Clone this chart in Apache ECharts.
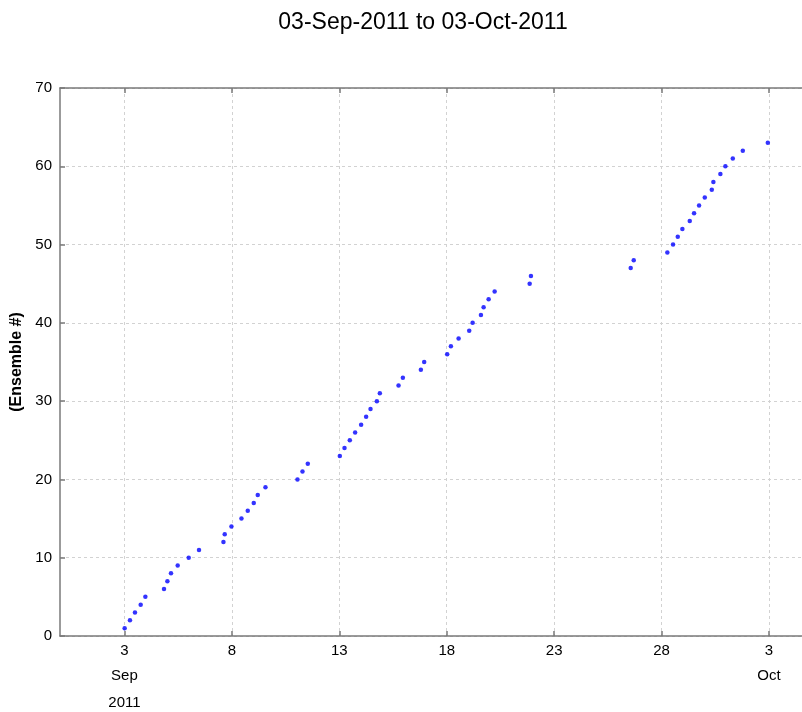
<!DOCTYPE html>
<html><head><meta charset="utf-8">
<script src="https://cdn.jsdelivr.net/npm/echarts@6/dist/echarts.min.js"></script>
<style>html,body{margin:0;padding:0;background:#fff}#chart{width:802px;height:712px}</style>
</head><body><div id="chart"></div>
<script>
const titleText = '03-Sep-2011 to 03-Oct-2011';
const yAxisName = '(Ensemble #)';
const ensembleTimes = [
  '2011-09-03 00:13','2011-09-03 06:09','2011-09-03 11:44','2011-09-03 18:07','2011-09-03 23:21',
  '2011-09-04 20:10','2011-09-04 23:57','2011-09-05 03:59','2011-09-05 11:28','2011-09-05 23:46',
  '2011-09-06 11:17','2011-09-07 14:33','2011-09-07 16:00','2011-09-07 23:30','2011-09-08 10:41',
  '2011-09-08 17:43','2011-09-09 00:26','2011-09-09 04:54','2011-09-09 13:30','2011-09-11 01:16',
  '2011-09-11 06:52','2011-09-11 12:47','2011-09-13 00:33','2011-09-13 05:48','2011-09-13 11:44',
  '2011-09-13 17:40','2011-09-14 00:22','2011-09-14 05:57','2011-09-14 10:52','2011-09-14 17:56',
  '2011-09-14 21:16','2011-09-15 18:10','2011-09-15 22:59','2011-09-16 19:06','2011-09-16 22:48',
  '2011-09-18 00:30','2011-09-18 04:38','2011-09-18 13:15','2011-09-19 01:06','2011-09-19 04:54',
  '2011-09-19 14:11','2011-09-19 17:11','2011-09-19 22:47','2011-09-20 05:30','2011-09-21 20:37',
  '2011-09-21 22:03','2011-09-26 13:30','2011-09-26 16:52','2011-09-28 06:26','2011-09-28 12:47',
  '2011-09-28 18:03','2011-09-28 23:13','2011-09-29 07:28','2011-09-29 12:16','2011-09-29 17:51',
  '2011-09-30 00:14','2011-09-30 08:04','2011-09-30 09:50','2011-09-30 17:40','2011-09-30 23:15',
  '2011-10-01 07:32','2011-10-01 18:42','2011-10-02 22:39'
];
const ensembleNumbers = [
  1,2,3,4,5,6,7,8,9,10,
  11,12,13,14,15,16,17,18,19,20,
  21,22,23,24,25,26,27,28,29,30,
  31,32,33,34,35,36,37,38,39,40,
  41,42,43,44,45,46,47,48,49,50,
  51,52,53,54,55,56,57,58,59,60,
  61,62,63
];
const xTickDates = ['2011-09-03','2011-09-08','2011-09-13','2011-09-18','2011-09-23','2011-09-28','2011-10-03'];
const xTickLabels = ['3','8','13','18','23','28','3'];
const xTickMonths = ['Sep','','','','','','Oct'];
const xTickYears = ['2011','','','','','',''];
const xRange = ['2011-08-31','2011-10-05'];
const yTicks = [0,10,20,30,40,50,60,70];

function toUTC(s) {
  const parts = s.split(' ');
  const d = parts[0].split('-').map(Number);
  const t = (parts[1] || '00:00').split(':').map(Number);
  return Date.UTC(d[0], d[1] - 1, d[2], t[0], t[1]);
}
const tickVals = xTickDates.map(toUTC);
const seriesData = ensembleTimes.map((t, i) => [toUTC(t), ensembleNumbers[i]]);

const FONT = 'Liberation Sans, Arial, Helvetica, sans-serif';
const axisColor = '#7a7a7a';
const gridLine = { show: true, lineStyle: { color: '#d2d2d2', type: [3, 3], width: 1 } };

const chart = echarts.init(document.getElementById('chart'), null, { renderer: 'canvas' });
chart.setOption({
  animation: false,
  backgroundColor: '#ffffff',
  title: {
    text: titleText, left: 418, top: 6, textAlign: 'center',
    textStyle: { fontFamily: FONT, fontSize: 23, fontWeight: 'normal', color: '#000' }
  },
  grid: { left: 60, width: 752, top: 88, height: 548, containLabel: false, outerBoundsMode: 'none' },
  xAxis: [{
    type: 'value', min: toUTC(xRange[0]), max: toUTC(xRange[1]), position: 'bottom',
    axisLine: { show: true, onZero: false, lineStyle: { color: axisColor, width: 1.5 } },
    axisTick: { show: true, inside: true, length: 5, customValues: tickVals, lineStyle: { color: axisColor, width: 1.5 } },
    axisLabel: {
      show: true, customValues: tickVals, margin: 3, color: '#000', fontFamily: FONT, fontSize: 15,
      formatter: function (v) {
        const i = tickVals.indexOf(v);
        if (i < 0) return '';
        let s = '{d|' + xTickLabels[i] + '}';
        if (xTickMonths[i]) s += '\n{m|' + xTickMonths[i] + '}';
        if (xTickYears[i]) s += '\n{m|' + xTickYears[i] + '}';
        return s;
      },
      rich: {
        d: { fontFamily: FONT, fontSize: 15, lineHeight: 23, color: '#000' },
        m: { fontFamily: FONT, fontSize: 15, lineHeight: 27, color: '#000' }
      }
    },
    splitLine: gridLine
  }, {
    type: 'value', min: toUTC(xRange[0]), max: toUTC(xRange[1]), position: 'top',
    axisLine: { show: true, onZero: false, lineStyle: { color: axisColor, width: 1.5 } },
    axisTick: { show: true, inside: true, length: 5, customValues: tickVals, lineStyle: { color: axisColor, width: 1.5 } },
    axisLabel: { show: false },
    splitLine: { show: false }
  }],
  yAxis: {
    type: 'value', min: yTicks[0], max: yTicks[yTicks.length - 1], interval: 10,
    name: yAxisName, nameLocation: 'middle', nameGap: 35, nameRotate: 90,
    nameTextStyle: { fontFamily: FONT, fontSize: 16, fontWeight: 'bold', color: '#000' },
    axisLine: { show: true, lineStyle: { color: axisColor, width: 1.5 } },
    axisTick: { show: true, inside: true, length: 5, lineStyle: { color: axisColor, width: 1.5 } },
    axisLabel: { margin: 8, color: '#000', fontFamily: FONT, fontSize: 15 },
    splitLine: gridLine
  },
  series: [{
    type: 'scatter', xAxisIndex: 0, yAxisIndex: 0,
    symbol: 'circle', symbolSize: 4.5,
    itemStyle: { color: '#0000ff' },
    data: seriesData
  }]
});
</script></body></html>
